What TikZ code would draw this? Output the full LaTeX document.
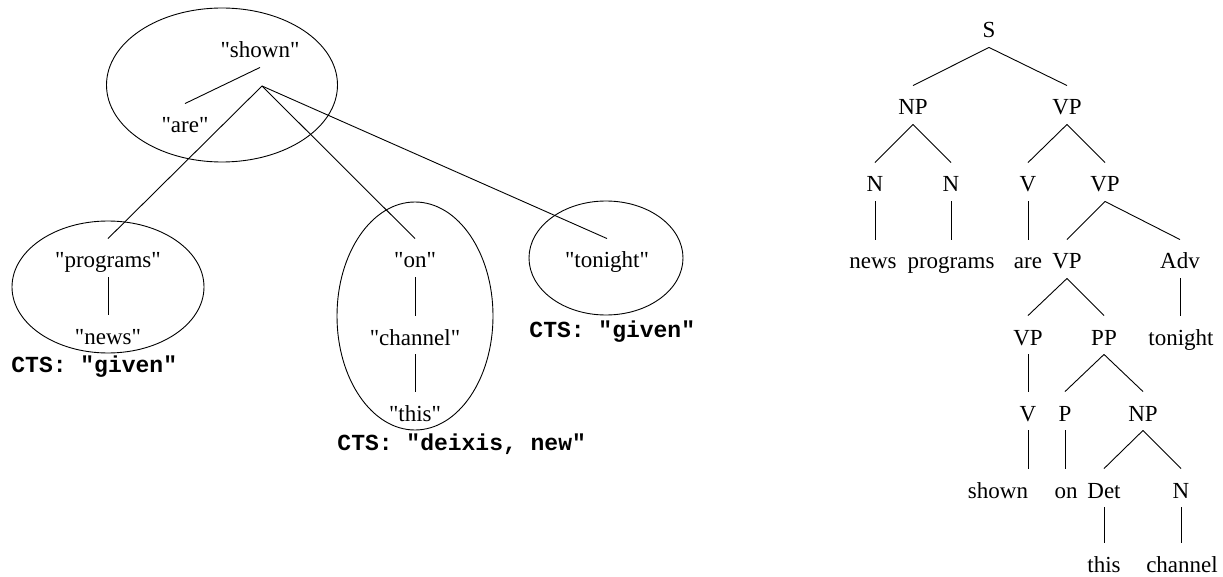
\documentclass[tikz,border=0pt]{standalone}
\usepackage{fontspec}
\setmainfont{Liberation Serif}[Ligatures=TeXOff]
\setmonofont{Liberation Mono}[Ligatures=TeXOff]
\usetikzlibrary{shapes.geometric}

\begin{document}
\begin{tikzpicture}[x=1pt, y=-1pt, line width=0.9pt,
	font=\fontsize{23}{27}\selectfont,
	word/.style={inner sep=0pt, text height=29pt, text depth=9pt, anchor=base},
	group/.style={draw, ellipse, inner sep=0pt},
	cts/.style={inner sep=0pt, anchor=base west, font=\fontsize{23}{27}\selectfont\ttfamily\bfseries}]
	\useasboundingbox (0,0) rectangle (1223,577);

	% dependency tree with groups
	\node[group, minimum width=231pt, minimum height=154pt] (gShown) at (222,85) {};
	\node[group, minimum width=192pt, minimum height=132pt] (gPrograms) at (108,287) {};
	\node[group, minimum width=156pt, minimum height=228pt] (gOn) at (415,316) {};
	\node[group, minimum width=154pt, minimum height=114pt] (gTonight) at (606,258) {};
	\node[word] (shown) at (260,58) {"shown"};
	\node[word] (are) at (185,133) {"are"};
	\coordinate (hub) at (262,86);
	\node[word] (programs) at (108,268) {"programs"};
	\node[word] (news) at (108,344) {"news"};
	\node[word] (on) at (415,268) {"on"};
	\node[word] (channel) at (415,345) {"channel"};
	\node[word] (this) at (415,421) {"this"};
	\node[word] (tonight) at (607,268) {"tonight"};
	\node[cts] (ctsPrograms) at (11,372) {CTS: "given"};
	\node[cts] (ctsOn) at (337,450) {CTS: "deixis, new"};
	\node[cts] (ctsTonight) at (529,337) {CTS: "given"};
	\draw (shown.south) -- (are.north);
	\draw (hub) -- (programs.north);
	\draw (hub) -- (on.north);
	\draw (hub) -- (tonight.north);
	\draw (programs.south) -- (news.north);
	\draw (on.south) -- (channel.north);
	\draw (channel.south) -- (this.north);

	% phrase structure tree
	\node[word] (s) at (989,38) {S};
	\node[word] (npA) at (913,115) {NP};
	\node[word] (vpA) at (1067,115) {VP};
	\node[word] (nA) at (875,192) {N};
	\node[word] (nB) at (951,192) {N};
	\node[word] (vA) at (1028,192) {V};
	\node[word] (vpB) at (1105,192) {VP};
	\node[word] (wNews) at (873,269) {news};
	\node[word] (wPrograms) at (951,269) {programs};
	\node[word] (wAre) at (1028,269) {are};
	\node[word] (vpC) at (1067,269) {VP};
	\node[word] (adv) at (1180,269) {Adv};
	\node[word] (vpD) at (1028,345) {VP};
	\node[word] (pp) at (1104,345) {PP};
	\node[word] (wTonight) at (1181,345) {tonight};
	\node[word] (vB) at (1028,421) {V};
	\node[word] (p) at (1065,421) {P};
	\node[word] (npB) at (1143,421) {NP};
	\node[word] (wShown) at (998,498) {shown};
	\node[word] (wOn) at (1066,498) {on};
	\node[word] (det) at (1104,498) {Det};
	\node[word] (nC) at (1181,498) {N};
	\node[word] (wThis) at (1104,572) {this};
	\node[word] (wChannel) at (1182,572) {channel};
	\draw (s.south) -- (npA.north);
	\draw (s.south) -- (vpA.north);
	\draw (npA.south) -- (nA.north);
	\draw (npA.south) -- (nB.north);
	\draw (vpA.south) -- (vA.north);
	\draw (vpA.south) -- (vpB.north);
	\draw (nA.south) -- (nA.south |- wNews.north);
	\draw (nB.south) -- (wPrograms.north);
	\draw (vA.south) -- (wAre.north);
	\draw (vpB.south) -- (vpC.north);
	\draw (vpB.south) -- (adv.north);
	\draw (vpC.south) -- (vpD.north);
	\draw (vpC.south) -- (pp.north);
	\draw (adv.south) -- (adv.south |- wTonight.north);
	\draw (vpD.south) -- (vB.north);
	\draw (pp.south) -- (p.north);
	\draw (pp.south) -- (npB.north);
	\draw (vB.south) -- (vB.south |- wShown.north);
	\draw (p.south) -- (p.south |- wOn.north);
	\draw (npB.south) -- (det.north);
	\draw (npB.south) -- (nC.north);
	\draw (det.south) -- (wThis.north);
	\draw (nC.south) -- (nC.south |- wChannel.north);
\end{tikzpicture}
\end{document}
